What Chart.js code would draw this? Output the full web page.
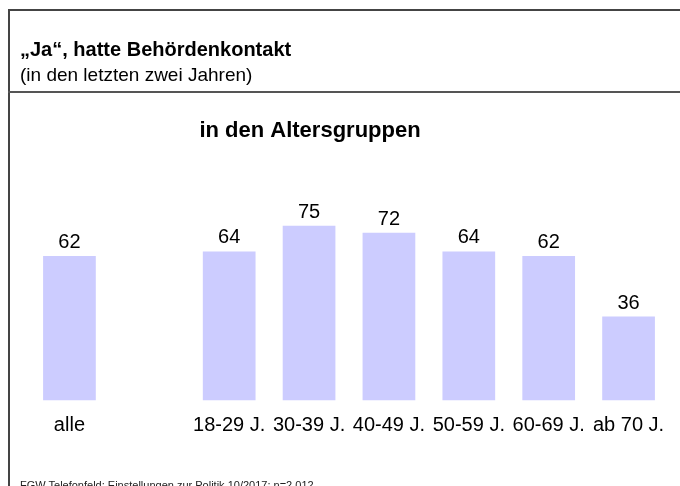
<!DOCTYPE html>
<html lang="de">
<head>
<meta charset="utf-8">
<script src="https://cdn.jsdelivr.net/npm/chart.js@4.4.0/dist/chart.umd.min.js"></script>
<style>
  html, body { margin: 0; padding: 0; background: #fff; }
  body { width: 680px; height: 486px; position: relative; overflow: hidden; font-family: "Liberation Sans", Arial, sans-serif; }
  #chart { position: absolute; left: 0; top: 0; }
  .frame-top { position: absolute; left: 8px; right: 0; top: 9px; border-top: 2px solid #444; }
  .frame-left { position: absolute; left: 8px; top: 9px; bottom: 0; border-left: 2px solid #444; }
  .frame-mid { position: absolute; left: 8px; right: 0; top: 91px; border-top: 2px solid #555; }
  .title { position: absolute; left: 20px; top: 38px; font-size: 20px; font-weight: bold; color: #000; white-space: nowrap; line-height: 1.15; }
  .subtitle { position: absolute; left: 20px; top: 64px; font-size: 19px; color: #000; white-space: nowrap; line-height: 1.15; }
  .footer { position: absolute; left: 20px; top: 479px; font-size: 11px; color: #222; white-space: nowrap; line-height: 1.15; }
</style>
</head>
<body>
<canvas id="chart" width="680" height="486"></canvas>
<div class="frame-top"></div>
<div class="frame-left"></div>
<div class="frame-mid"></div>
<div class="title">„Ja“, hatte Behördenkontakt</div>
<div class="subtitle">(in den letzten zwei Jahren)</div>
<div class="footer">FGW Telefonfeld: Einstellungen zur Politik 10/2017; n=2.012</div>
<script>
// data
const categories = ["alle", "", "18-29 J.", "30-39 J.", "40-49 J.", "50-59 J.", "60-69 J.", "ab 70 J."];
const values = [62, null, 64, 75, 72, 64, 62, 36];
const groupTitle = "in den Altersgruppen";

// value labels above the bars + the group heading
const barLabels = {
  id: "barLabels",
  afterDatasetsDraw(chart) {
    const ctx = chart.ctx;
    const meta = chart.getDatasetMeta(0);
    ctx.save();
    ctx.fillStyle = "#000";
    ctx.font = "20px 'Liberation Sans', Arial, sans-serif";
    ctx.textAlign = "center";
    ctx.textBaseline = "alphabetic";
    meta.data.forEach((bar, i) => {
      if (values[i] == null) return;
      ctx.fillText(String(values[i]), bar.x, bar.y - 8);
    });
    ctx.font = "bold 22px 'Liberation Sans', Arial, sans-serif";
    ctx.fillText(groupTitle, 310, 137);
    ctx.restore();
  }
};

new Chart(document.getElementById("chart"), {
  type: "bar",
  data: {
    labels: categories,
    datasets: [{
      data: values,
      backgroundColor: "#ccccff",
      borderWidth: 0,
      barPercentage: 0.66,
      categoryPercentage: 1
    }]
  },
  options: {
    responsive: false,
    animation: false,
    layout: { padding: { left: 29.5, right: 11.5, top: 167.5, bottom: 35.5 } },
    plugins: { legend: { display: false }, tooltip: { enabled: false } },
    scales: {
      x: {
        grid: { display: false, drawTicks: false },
        border: { display: false },
        ticks: {
          color: "#000",
          padding: 13,
          maxRotation: 0,
          autoSkip: false,
          font: { family: "'Liberation Sans', Arial, sans-serif", size: 20 }
        }
      },
      y: { display: false, min: 0, max: 100 }
    }
  },
  plugins: [barLabels]
});
</script>
</body>
</html>
